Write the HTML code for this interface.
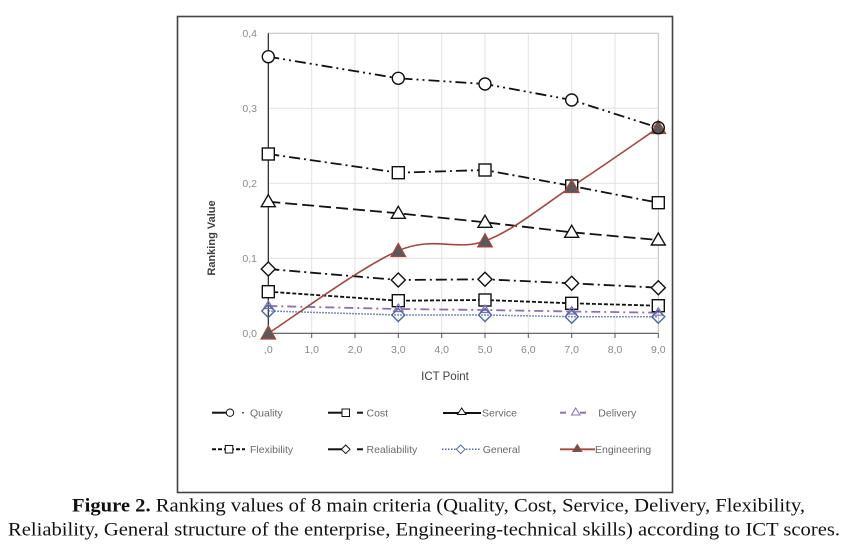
<!DOCTYPE html>
<html><head><meta charset="utf-8"><style>
html,body{margin:0;padding:0;background:#fff;}
svg{display:block;}
</style></head><body>
<svg width="850" height="547" viewBox="0 0 850 547" xmlns="http://www.w3.org/2000/svg">
<rect x="0" y="0" width="850" height="547" fill="#fff"/>
<!-- outer box -->
<rect x="177.5" y="16.5" width="495" height="476" fill="#fff" stroke="#444" stroke-width="1.6"/>
<!-- grid -->
<g stroke="#e2e2e2" stroke-width="1">
<line x1="311.7" y1="33.3" x2="311.7" y2="333.3"/>
<line x1="355" y1="33.3" x2="355" y2="333.3"/>
<line x1="398.3" y1="33.3" x2="398.3" y2="333.3"/>
<line x1="441.7" y1="33.3" x2="441.7" y2="333.3"/>
<line x1="485" y1="33.3" x2="485" y2="333.3"/>
<line x1="528.3" y1="33.3" x2="528.3" y2="333.3"/>
<line x1="571.7" y1="33.3" x2="571.7" y2="333.3"/>
<line x1="615" y1="33.3" x2="615" y2="333.3"/>
<line x1="268.3" y1="108.3" x2="658.3" y2="108.3"/>
<line x1="268.3" y1="183.3" x2="658.3" y2="183.3"/>
<line x1="268.3" y1="258.3" x2="658.3" y2="258.3"/>
</g>
<g stroke="#bdbdbd" stroke-width="1" fill="none">
<line x1="268.3" y1="33.3" x2="658.3" y2="33.3"/>
<line x1="658.3" y1="33.3" x2="658.3" y2="333.3"/>
</g>
<!-- axes -->
<line x1="268.3" y1="33.3" x2="268.3" y2="333.3" stroke="#222" stroke-width="1.2"/>
<line x1="268.3" y1="333.3" x2="658.3" y2="333.3" stroke="#555" stroke-width="1.2"/>
<g stroke="#555" stroke-width="1">
<line x1="268.3" y1="333.3" x2="268.3" y2="338"/>
<line x1="311.7" y1="333.3" x2="311.7" y2="338"/>
<line x1="355" y1="333.3" x2="355" y2="338"/>
<line x1="398.3" y1="333.3" x2="398.3" y2="338"/>
<line x1="441.7" y1="333.3" x2="441.7" y2="338"/>
<line x1="485" y1="333.3" x2="485" y2="338"/>
<line x1="528.3" y1="333.3" x2="528.3" y2="338"/>
<line x1="571.7" y1="333.3" x2="571.7" y2="338"/>
<line x1="615" y1="333.3" x2="615" y2="338"/>
<line x1="658.3" y1="333.3" x2="658.3" y2="338"/>
</g>
<!-- tick labels -->
<g font-family="Liberation Sans, DejaVu Sans, sans-serif" font-size="10.5" fill="#8a8a8a">
<g text-anchor="end">
<text x="257" y="37">0,4</text>
<text x="257" y="112">0,3</text>
<text x="257" y="187">0,2</text>
<text x="257" y="262">0,1</text>
<text x="257" y="337">0,0</text>
</g>
<g text-anchor="middle">
<text x="268.3" y="353">,0</text>
<text x="311.7" y="353">1,0</text>
<text x="355" y="353">2,0</text>
<text x="398.3" y="353">3,0</text>
<text x="441.7" y="353">4,0</text>
<text x="485" y="353">5,0</text>
<text x="528.3" y="353">6,0</text>
<text x="571.7" y="353">7,0</text>
<text x="615" y="353">8,0</text>
<text x="658.3" y="353">9,0</text>
</g>
</g>
<text x="445" y="380" text-anchor="middle" font-family="Liberation Sans, DejaVu Sans, sans-serif" font-size="11.5" fill="#404040">ICT Point</text>
<text transform="translate(215,238) rotate(-90)" text-anchor="middle" font-family="Liberation Sans, DejaVu Sans, sans-serif" font-size="11" font-weight="bold" fill="#404040">Ranking Value</text>

<!-- series lines -->
<g fill="none">
<!-- Quality -->
<polyline points="268.3,56.7 398.3,78.3 485,84 571.7,100 658.3,127.7" stroke="#111" stroke-width="1.8" stroke-dasharray="11 4 2 4 2 4"/>
<!-- Cost -->
<polyline points="268.3,154 398.3,172.7 485,170 571.7,186 658.3,202.7" stroke="#111" stroke-width="1.8" stroke-dasharray="11 4 2 4"/>
<!-- Service -->
<polyline points="268.3,201.7 398.3,213.3 485,222.3 571.7,232.3 658.3,240" stroke="#111" stroke-width="1.8" stroke-dasharray="12 5"/>
<!-- Reliability -->
<polyline points="268.3,269 398.3,280 485,279.3 571.7,283.3 658.3,287.7" stroke="#111" stroke-width="1.8" stroke-dasharray="11 4 2 4"/>
<!-- Flexibility -->
<polyline points="268.3,291.7 398.3,300.7 485,300 571.7,303.3 658.3,305.7" stroke="#111" stroke-width="1.8" stroke-dasharray="4 2"/>
<!-- Delivery -->
<polyline points="268.3,306 398.3,309 485,310 571.7,311.5 658.3,312.7" stroke="#8a6fb5" stroke-width="1.8" stroke-dasharray="9 4 2 4"/>
<!-- General -->
<polyline points="268.3,311 398.3,315 485,315 571.7,316.7 658.3,316.7" stroke="#4a68a8" stroke-width="1.5" stroke-dasharray="1.5 1.5"/>
<!-- Engineering -->
<path d="M268.3,333.3 C290,319.5 362.2,266.1 398.3,250.7 C434.4,235.3 456.1,251.7 485,241 C513.9,230.3 542.8,205.6 571.7,186.7 C600.6,167.8 643.9,137.5 658.3,127.7" stroke="#a5473f" stroke-width="1.6"/>
</g>

<!-- markers -->
<g stroke="#111" stroke-width="1.4" fill="#fff">
<!-- Quality circles -->
<circle cx="268.3" cy="56.7" r="6"/>
<circle cx="398.3" cy="78.3" r="6"/>
<circle cx="485" cy="84" r="6"/>
<circle cx="571.7" cy="100" r="6"/>
<!-- Cost squares -->
<rect x="262.3" y="148" width="12" height="12"/>
<rect x="392.3" y="166.7" width="12" height="12"/>
<rect x="479" y="164" width="12" height="12"/>
<rect x="565.7" y="180" width="12" height="12"/>
<rect x="652.3" y="196.7" width="12" height="12"/>
<!-- Service triangles -->
<polygon points="268.3,194.7 275.3,206.7 261.3,206.7"/>
<polygon points="398.3,206.3 405.3,218.3 391.3,218.3"/>
<polygon points="485,215.3 492,227.3 478,227.3"/>
<polygon points="571.7,225.3 578.7,237.3 564.7,237.3"/>
<polygon points="658.3,233 665.3,245 651.3,245"/>
<!-- Reliability diamonds -->
<polygon points="268.3,262 275.3,269 268.3,276 261.3,269"/>
<polygon points="398.3,273 405.3,280 398.3,287 391.3,280"/>
<polygon points="485,272.3 492,279.3 485,286.3 478,279.3"/>
<polygon points="571.7,276.3 578.7,283.3 571.7,290.3 564.7,283.3"/>
<polygon points="658.3,280.7 665.3,287.7 658.3,294.7 651.3,287.7"/>
<!-- Flexibility squares -->
<rect x="262.3" y="285.7" width="12" height="12"/>
<rect x="392.3" y="294.7" width="12" height="12"/>
<rect x="479" y="294" width="12" height="12"/>
<rect x="565.7" y="297.3" width="12" height="12"/>
<rect x="652.3" y="299.7" width="12" height="12"/>
</g>
<!-- Delivery triangles -->
<g stroke="#8a6fb5" stroke-width="1.2" fill="none">
<polygon points="268.3,301 273,308.5 263.6,308.5"/>
<polygon points="398.3,304 403,311.5 393.6,311.5"/>
<polygon points="485,305 489.7,312.5 480.3,312.5"/>
<polygon points="571.7,306.5 576.4,314 567,314"/>
<polygon points="658.3,307.7 663,315.2 653.6,315.2"/>
</g>
<!-- General diamonds -->
<g stroke="#4a68a8" stroke-width="1.4" fill="none">
<polygon points="268.3,304.5 274.8,311 268.3,317.5 261.8,311"/>
<polygon points="398.3,308.5 404.8,315 398.3,321.5 391.8,315"/>
<polygon points="485,308.5 491.5,315 485,321.5 478.5,315"/>
<polygon points="571.7,310.2 578.2,316.7 571.7,323.2 565.2,316.7"/>
<polygon points="658.3,310.2 664.8,316.7 658.3,323.2 651.8,316.7"/>
</g>
<!-- Engineering triangles -->
<g stroke="#a5473f" stroke-width="1.3" fill="#595959">
<polygon points="268.3,326 275.5,339 261.1,339"/>
<polygon points="398.3,243.5 405.5,256.5 391.1,256.5"/>
<polygon points="485,233.8 492.2,246.8 477.8,246.8"/>
<polygon points="571.7,179.5 578.9,192.5 564.5,192.5"/>
<polygon points="658.3,120.5 665.5,133.5 651.1,133.5"/>
</g>
<!-- Quality last circle on top -->
<circle cx="658.3" cy="127.7" r="6" fill="none" stroke="#111" stroke-width="1.4"/>

<!-- legend -->
<g font-family="Liberation Sans, DejaVu Sans, sans-serif" font-size="10.5" fill="#6a6a6a">
<!-- Quality -->
<line x1="212" y1="412.7" x2="226" y2="412.7" stroke="#111" stroke-width="2"/>
<circle cx="230" cy="412.7" r="3.7" fill="#fff" stroke="#111" stroke-width="1"/>
<circle cx="243" cy="412.7" r="0.9" fill="#333"/>
<text x="250" y="416.5">Quality</text>
<!-- Cost -->
<line x1="328" y1="412.7" x2="342" y2="412.7" stroke="#111" stroke-width="2"/>
<rect x="342" y="409" width="7.5" height="7.5" fill="#fff" stroke="#111" stroke-width="1"/>
<line x1="357" y1="412.7" x2="363" y2="412.7" stroke="#111" stroke-width="2"/>
<text x="366.5" y="416.5">Cost</text>
<!-- Service -->
<line x1="443" y1="413" x2="481" y2="413" stroke="#111" stroke-width="2"/>
<polygon points="461.7,408 466,414.5 457.4,414.5" fill="#fff" stroke="#111" stroke-width="1"/>
<text x="482" y="416.5">Service</text>
<!-- Delivery -->
<line x1="560" y1="412.7" x2="566" y2="412.7" stroke="#8a6fb5" stroke-width="2"/>
<polygon points="575.7,408 580,415 571.4,415" fill="#fff" stroke="#8a6fb5" stroke-width="1"/>
<line x1="580" y1="412.7" x2="586" y2="412.7" stroke="#8a6fb5" stroke-width="2"/>
<text x="598.3" y="416.5">Delivery</text>
<!-- Flexibility -->
<line x1="212" y1="449.3" x2="245" y2="449.3" stroke="#111" stroke-width="2" stroke-dasharray="4 2"/>
<rect x="225.3" y="445.5" width="7.5" height="7.5" fill="#fff" stroke="#111" stroke-width="1"/>
<text x="250" y="453">Flexibility</text>
<!-- Realiability -->
<line x1="328" y1="449.3" x2="342" y2="449.3" stroke="#111" stroke-width="2"/>
<polygon points="345.7,445 350,449.3 345.7,453.6 341.4,449.3" fill="#fff" stroke="#111" stroke-width="1"/>
<line x1="357" y1="449.3" x2="363" y2="449.3" stroke="#111" stroke-width="2"/>
<text x="366.5" y="453">Realiability</text>
<!-- General -->
<line x1="442" y1="449.3" x2="481" y2="449.3" stroke="#4a68a8" stroke-width="1.5" stroke-dasharray="1.5 1.5"/>
<polygon points="460.7,445 465,449.3 460.7,453.6 456.4,449.3" fill="#fff" stroke="#4a68a8" stroke-width="1"/>
<text x="482.7" y="453">General</text>
<!-- Engineering -->
<line x1="560" y1="449.3" x2="595" y2="449.3" stroke="#a5473f" stroke-width="1.8"/>
<polygon points="577.3,444.5 581.8,451.5 572.8,451.5" fill="#595959" stroke="#a5473f" stroke-width="1"/>
<text x="595" y="453">Engineering</text>
</g>

<!-- caption -->
<g font-family="Liberation Serif, Times New Roman, serif" font-size="18.5" fill="#111">
<text x="72" y="511.5" textLength="733" lengthAdjust="spacingAndGlyphs"><tspan font-weight="bold">Figure 2.</tspan> Ranking values of 8 main criteria (Quality, Cost, Service, Delivery, Flexibility,</text>
<text x="8" y="535.5" textLength="832" lengthAdjust="spacingAndGlyphs">Reliability, General structure of the enterprise, Engineering-technical skills) according to ICT scores.</text>
</g>
</svg>
</body></html>
